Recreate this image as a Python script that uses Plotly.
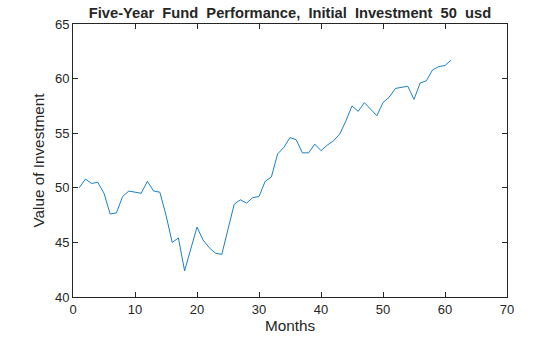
import plotly.graph_objects as go

# Monthly value of a 50 usd investment over five years
months = list(range(1, 62))
value = [
    50.0, 50.8, 50.4, 50.5, 49.5, 47.6, 47.7, 49.2, 49.7, 49.6,
    49.5, 50.6, 49.7, 49.6, 47.5, 45.0, 45.4, 42.4, 44.4, 46.4,
    45.2, 44.5, 44.0, 43.9, 46.2, 48.5, 48.9, 48.6, 49.1, 49.2,
    50.6, 51.0, 53.1, 53.7, 54.6, 54.4, 53.2, 53.2, 54.0, 53.4,
    53.9, 54.3, 54.9, 56.1, 57.5, 57.0, 57.8, 57.2, 56.6, 57.8,
    58.3, 59.1, 59.2, 59.3, 58.1, 59.6, 59.8, 60.8, 61.1, 61.2,
    61.7,
]

x_ticks = [0, 10, 20, 30, 40, 50, 60, 70]
y_ticks = [40, 45, 50, 55, 60, 65]

axis_color = "#262626"
font_family = "Liberation Sans, Arial, sans-serif"

fig = go.Figure()
fig.add_trace(go.Scatter(
    x=months, y=value, mode="lines",
    line=dict(color="#0072BD", width=0.9),
    showlegend=False, hoverinfo="skip",
))

axis_common = dict(
    showline=True, linecolor=axis_color, linewidth=1, mirror="ticks",
    ticks="inside", ticklen=5, tickwidth=1, tickcolor=axis_color,
    showgrid=False, zeroline=False, automargin=False,
    tickfont=dict(family=font_family, size=13, color=axis_color),
)

fig.update_layout(
    width=560, height=337,
    margin=dict(l=73, r=53, t=24, b=40),
    paper_bgcolor="white", plot_bgcolor="white",
    font=dict(family=font_family, color=axis_color),
    title=dict(
        text="<b>Five-Year  Fund  Performance,  Initial  Investment  50  usd</b>",
        x=0.5179, xanchor="center", y=0.962, yanchor="middle",
        font=dict(family=font_family, size=14.7, color=axis_color),
    ),
    xaxis=dict(
        range=[0, 70], tickvals=x_ticks,
        title=dict(text="Months", font=dict(size=15.3), standoff=4),
        **axis_common,
    ),
    yaxis=dict(
        range=[40, 65], tickvals=y_ticks,
        title=dict(text="Value of Investment", font=dict(size=15.3), standoff=6),
        **axis_common,
    ),
)

fig.write_html("out.html")
